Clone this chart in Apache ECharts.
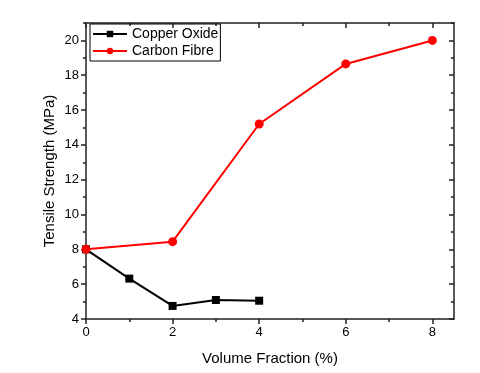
<!DOCTYPE html>
<html>
<head>
<meta charset="utf-8">
<script src="https://cdn.jsdelivr.net/npm/echarts@6/dist/echarts.min.js"></script>
<style>
html,body{margin:0;padding:0;background:#fff;}
#chart{width:480px;height:373px;}
</style>
</head>
<body>
<div id="chart"></div>
<script>
var copperX=[0,1,2,3,4];
var copperY=[8,6.32,4.75,5.09,5.05];
var carbonX=[0,2,4,6,8];
var carbonY=[8,8.44,15.2,18.65,20];
var xMajor=[0,2,4,6,8];
var xMinor=[1,3,5,7];
var yMajor=[4,6,8,10,12,14,16,18,20];
var yMinor=[5,7,9,11,13,15,17,19,21];

function pairs(xs,ys){
    var out=[];
    for (var i=0;i<xs.length;i++){
        out.push([xs[i],ys[i]]);
    }
    return out;
}
var font='Liberation Sans';
var lineStyle={color:'#222',width:1.5};

// x axes: 0 bottom major, 1 bottom minor, 2 top major, 3 top minor
function xAx(pos,vals,len,inside,labels,line){
    return {
        type:'value',min:0,max:8.5,position:pos,
        axisLine:{show:line,onZero:false,lineStyle:lineStyle},
        axisTick:{show:true,inside:inside,length:len,customValues:vals,lineStyle:lineStyle},
        axisLabel:{show:labels,customValues:vals,color:'#000',fontSize:13,fontFamily:font,margin:7},
        splitLine:{show:false}
    };
}
function yAx(pos,vals,len,inside,labels,line){
    return {
        type:'value',min:4,max:21,position:pos,
        axisLine:{show:line,onZero:false,lineStyle:lineStyle},
        axisTick:{show:true,inside:inside,length:len,customValues:vals,lineStyle:lineStyle},
        axisLabel:{show:labels,customValues:vals,color:'#000',fontSize:13,fontFamily:font,margin:7},
        splitLine:{show:false}
    };
}
var xb=xAx('bottom',xMajor,5,false,true,true);
xb.name='Volume Fraction (%)';
xb.nameLocation='middle';
xb.nameGap=32;
xb.nameMoveOverlap=false;
xb.nameTextStyle={color:'#000',fontSize:15,fontFamily:font};
var yl=yAx('left',yMajor,5,false,true,true);
yl.name='Tensile Strength (MPa)';
yl.nameLocation='middle';
yl.nameGap=29;
yl.nameMoveOverlap=false;
yl.nameTextStyle={color:'#000',fontSize:15,fontFamily:font};

var option={
    backgroundColor:'#fff',
    animation:false,
    grid:{left:86,right:26,top:23,bottom:54},
    legend:{
        orient:'vertical',left:90,top:24,
        borderColor:'#000',borderWidth:1,padding:[3,2,3,2],
        itemGap:3,itemWidth:34,itemHeight:8,
        textStyle:{color:'#000',fontSize:14,fontFamily:font},
        data:['Copper Oxide','Carbon Fibre']
    },
    xAxis:[
        xb,
        xAx('bottom',xMinor,3,false,false,false),
        xAx('top',xMajor,5,true,false,true),
        xAx('top',xMinor,3,true,false,false)
    ],
    yAxis:[
        yl,
        yAx('left',yMinor,3,false,false,false),
        yAx('right',yMajor,5,true,false,true),
        yAx('right',yMinor,3,true,false,false)
    ],
    series:[
        {
            name:'Copper Oxide',type:'line',
            data:pairs(copperX,copperY),
            symbol:'rect',symbolSize:8,
            itemStyle:{color:'#000'},
            lineStyle:{color:'#000',width:2}
        },
        {
            name:'Carbon Fibre',type:'line',
            data:pairs(carbonX,carbonY),
            symbol:'circle',symbolSize:9,
            itemStyle:{color:'#ff0000'},
            lineStyle:{color:'#ff0000',width:2}
        }
    ]
};
var myChart=echarts.init(document.getElementById('chart'));
myChart.setOption(option);
</script>
</body>
</html>
